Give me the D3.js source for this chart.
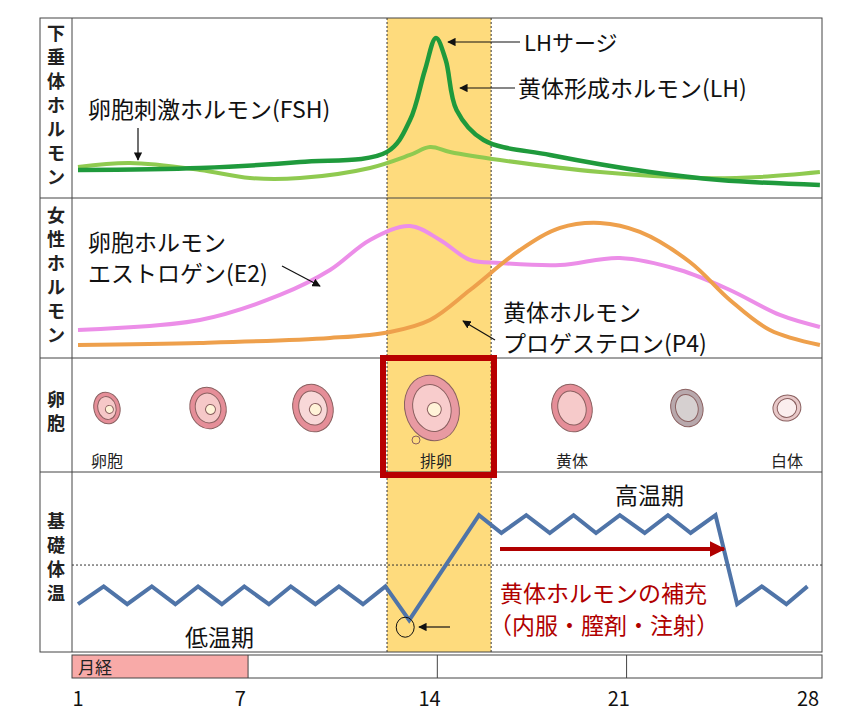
<!DOCTYPE html>
<html><head><meta charset="utf-8">
<script src="https://cdn.jsdelivr.net/npm/d3@7"></script>
<style>body{margin:0;background:#fff}text{font-family:"Noto Sans CJK JP",sans-serif}</style>
</head><body><svg id="c" width="858" height="720"></svg>
<script>
// days / levels
var lhDays = [1, 5.51, 9.21, 12.43, 13.28, 13.83, 14.24, 14.6, 15.0, 16.0, 18.46, 22.15, 24.74, 28.44];
var lhLevel = [15.6, 16.7, 20, 25.6, 43.3, 71, 88.9, 76.7, 48.9, 32.2, 23.9, 14.4, 10, 7.2];
var fshDays = [1, 2.92, 5.51, 7.36, 9.21, 11.8, 13.28, 14.02, 14.76, 16.61, 20.31, 24.0, 26.22, 28.44];
var fshLevel = [17.2, 19.4, 15.6, 11.1, 11.1, 16.7, 23.9, 28.3, 25.6, 21.1, 14.4, 11.1, 11.7, 14.4];
var e2Days = [1, 5.51, 8.47, 10.32, 11.8, 13.28, 14.39, 15.5, 16.61, 18.83, 21.04, 23.26, 25.11, 26.96, 28.44];
var e2Level = [17.5, 23.8, 39.4, 55, 73.8, 82.5, 73.8, 61.3, 59.4, 58.1, 62.5, 55, 42.5, 26.9, 19.4];
var p4Days = [1, 5.51, 10.32, 12.54, 14.02, 15.5, 17.35, 18.83, 20.31, 21.78, 23.63, 25.11, 26.59, 28.44];
var p4Level = [8.1, 9.4, 12.5, 16.3, 23.8, 42.5, 67.5, 81.3, 84.4, 78.8, 60, 36.3, 17.5, 8.1];
var bbtDays = [1, 1.95, 2.82, 3.73, 4.6, 5.44, 6.32, 7.15, 8.06, 8.87, 9.78, 10.65, 11.54, 12.37, 13.25,
  15.83, 16.66, 17.58, 18.45, 19.33, 20.16, 21.04, 21.96, 22.82, 23.66, 24.58, 25.38, 26.29, 27.2, 27.98];
var bbtTemp = [36.2, 36.4, 36.2, 36.4, 36.2, 36.4, 36.2, 36.4, 36.2, 36.4, 36.2, 36.4, 36.2, 36.4, 36.02,
  37.2, 37.0, 37.2, 37.0, 37.2, 37.0, 37.2, 37.0, 37.2, 37.0, 37.2, 36.2, 36.4, 36.2, 36.4];
var bbtLine = 36.64;
var dayTicks = [1, 7, 14, 21, 28];
var ovulation = [12.43, 16.28];
var menses = [0.78, 7.29];
var follicleDays = [2.07, 5.81, 9.69, 14.09, 19.27, 23.52, 27.22];
var follicleNames = ["卵胞", "", "", "排卵", "黄体", "", "白体"];
var rowNames = ["下垂体ホルモン", "女性ホルモン", "卵胞", "基礎体温"];

var svg = d3.select("#c");
var x = d3.scaleLinear().domain([1, 28]).range([78, 808]);
var y1 = d3.scaleLinear().domain([0, 100]).range([198, 18]);
var y2 = d3.scaleLinear().domain([0, 100]).range([358, 198]);
var yT = d3.scaleLinear().domain([36, 37]).range([622, 533]);
var L = 72, R = 822, rows = [18, 198, 358, 472, 652];

// ovulation band
svg.append("rect").attr("x", x(ovulation[0])).attr("y", 18)
  .attr("width", x(ovulation[1]) - x(ovulation[0])).attr("height", 634).attr("fill", "#fedb7d");
ovulation.forEach(function(d) {
  svg.append("line").attr("x1", x(d)).attr("x2", x(d)).attr("y1", 18).attr("y2", 652)
    .attr("stroke", "#333").attr("stroke-dasharray", "2,2");
});

// frame
svg.append("rect").attr("x", 40).attr("y", 18).attr("width", R - 40).attr("height", 634)
  .attr("fill", "none").attr("stroke", "#444");
svg.append("line").attr("x1", L).attr("x2", L).attr("y1", 18).attr("y2", 652).attr("stroke", "#444");
rows.slice(1, 4).forEach(function(r) {
  svg.append("line").attr("x1", 40).attr("x2", R).attr("y1", r).attr("y2", r).attr("stroke", "#444");
});
var labY = [30, 212, 396, 518];
rowNames.forEach(function(s, i) {
  s.split("").forEach(function(ch, j) {
    svg.append("text").attr("x", 56).attr("y", labY[i] + j * 24 + 10).attr("text-anchor", "middle")
      .attr("font-size", 18).attr("font-weight", "bold").attr("fill", "#222").text(ch);
  });
});

// menses / day bar
svg.append("rect").attr("x", x(menses[0])).attr("y", 655).attr("width", x(menses[1]) - x(menses[0]))
  .attr("height", 23).attr("fill", "#f8aaa8");
svg.append("rect").attr("x", L).attr("y", 655).attr("width", R - L).attr("height", 23)
  .attr("fill", "none").attr("stroke", "#444");
[7, 14, 21].forEach(function(d) {
  svg.append("line").attr("x1", x(d + 0.29)).attr("x2", x(d + 0.29)).attr("y1", 655).attr("y2", 678).attr("stroke", "#444");
});
svg.append("text").attr("x", 78).attr("y", 674).attr("font-size", 17).attr("fill", "#222").text("月経");
svg.selectAll(".tk").data(dayTicks).enter().append("text")
  .attr("x", function(d) { return x(d); }).attr("y", 706).attr("text-anchor", "middle")
  .attr("font-size", 20).attr("fill", "#111").text(function(d) { return d; });

function curve(days, vals, ys, color, w) {
  var line = d3.line().x(function(d, i) { return x(days[i]); }).y(function(d) { return ys(d); })
    .curve(d3.curveCatmullRom);
  svg.append("path").attr("d", line(vals)).attr("fill", "none").attr("stroke", color).attr("stroke-width", w);
}
curve(fshDays, fshLevel, y1, "#8fca50", 4);
curve(lhDays, lhLevel, y1, "#1f9a3c", 4.5);
curve(e2Days, e2Level, y2, "#ec8ee8", 4);
curve(p4Days, p4Level, y2, "#eea04c", 4);

// BBT
svg.append("line").attr("x1", L).attr("x2", R).attr("y1", yT(bbtLine)).attr("y2", yT(bbtLine))
  .attr("stroke", "#333").attr("stroke-dasharray", "2,2");
svg.append("path").attr("d", d3.line().x(function(d, i) { return x(bbtDays[i]); }).y(function(d) { return yT(d); })(bbtTemp))
  .attr("fill", "none").attr("stroke", "#4f74a8").attr("stroke-width", 4);
svg.append("ellipse").attr("cx", x(13.25) - 4).attr("cy", yT(36.02) + 7).attr("rx", 9).attr("ry", 10)
  .attr("fill", "none").attr("stroke", "#111");

// follicles
var fcol = [["#e58e98", "#f6c8c8"], ["#e58e98", "#f6c8c8"], ["#e58e98", "#f8d8d8"], ["#e89aa2", "#f8cccc"],
  ["#e58e98", "#f6caca"], ["#b8a8ac", "#d6d0d0"], ["#e8c8c8", "#fbeeee"]];
var frad = [[13, 16], [18, 21], [20, 24], [27, 33], [20, 24], [16, 19], [14, 13]];
follicleDays.forEach(function(d, i) {
  var g = svg.append("g").attr("transform", "translate(" + x(d) + ",408) rotate(-15)");
  g.append("ellipse").attr("rx", frad[i][0]).attr("ry", frad[i][1]).attr("fill", fcol[i][0]).attr("stroke", "#8a6060");
  g.append("ellipse").attr("rx", frad[i][0] * 0.7).attr("ry", frad[i][1] * 0.72).attr("fill", fcol[i][1]).attr("stroke", "#8a6060");
  if (i < 4) g.append("circle").attr("cx", 2).attr("cy", 2).attr("r", 4 + i).attr("fill", "#fff3d8").attr("stroke", "#8a6060");
  svg.append("text").attr("x", x(d) + (i == 3 ? 4 : 0)).attr("y", 467).attr("text-anchor", "middle")
    .attr("font-size", 16).attr("fill", "#222").text(follicleNames[i]);
});
svg.append("circle").attr("cx", 416).attr("cy", 440).attr("r", 4).attr("fill", "none").attr("stroke", "#8a6060");
svg.append("rect").attr("x", 383).attr("y", 358).attr("width", 111).attr("height", 117)
  .attr("fill", "none").attr("stroke", "#b80000").attr("stroke-width", 6);

// annotations
svg.append("defs").html('<marker id="ah" viewBox="0 0 10 10" refX="9" refY="5" markerWidth="7" markerHeight="7" orient="auto"><path d="M0,0L10,5L0,10z" fill="#111"/></marker>' +
  '<marker id="rh" viewBox="0 0 10 10" refX="9" refY="5" markerWidth="4" markerHeight="4" orient="auto"><path d="M0,0L10,5L0,10z" fill="#b00000"/></marker>');
function arrow(x1, y1a, x2, y2a) {
  svg.append("line").attr("x1", x1).attr("y1", y1a).attr("x2", x2).attr("y2", y2a)
    .attr("stroke", "#111").attr("stroke-width", 1.2).attr("marker-end", "url(#ah)");
}
function txt(s, tx, ty, size, col) {
  svg.append("text").attr("x", tx).attr("y", ty).attr("font-size", size).attr("fill", col || "#111").text(s);
}
arrow(520, 42, 448, 42); txt("LHサージ", 524, 51, 22);
arrow(515, 88, 460, 88); txt("黄体形成ホルモン(LH)", 518, 97, 23);
arrow(138, 128, 138, 160); txt("卵胞刺激ホルモン(FSH)", 88, 118, 23);
txt("卵胞ホルモン", 88, 251, 23); txt("エストロゲン(E2)", 88, 282, 23);
arrow(282, 266, 320, 286);
txt("黄体ホルモン", 503, 321, 23); txt("プロゲステロン(P4)", 503, 352, 23);
arrow(495, 340, 463, 321);
txt("高温期", 615, 504, 23); txt("低温期", 185, 646, 23);
arrow(450, 627, 419, 627);
svg.append("line").attr("x1", 500).attr("x2", 724).attr("y1", 549).attr("y2", 549)
  .attr("stroke", "#b00000").attr("stroke-width", 4).attr("marker-end", "url(#rh)");
txt("黄体ホルモンの補充", 500, 602, 23, "#b00000");
txt("（内服・膣剤・注射）", 489, 634, 23, "#b00000");
</script></body></html>
